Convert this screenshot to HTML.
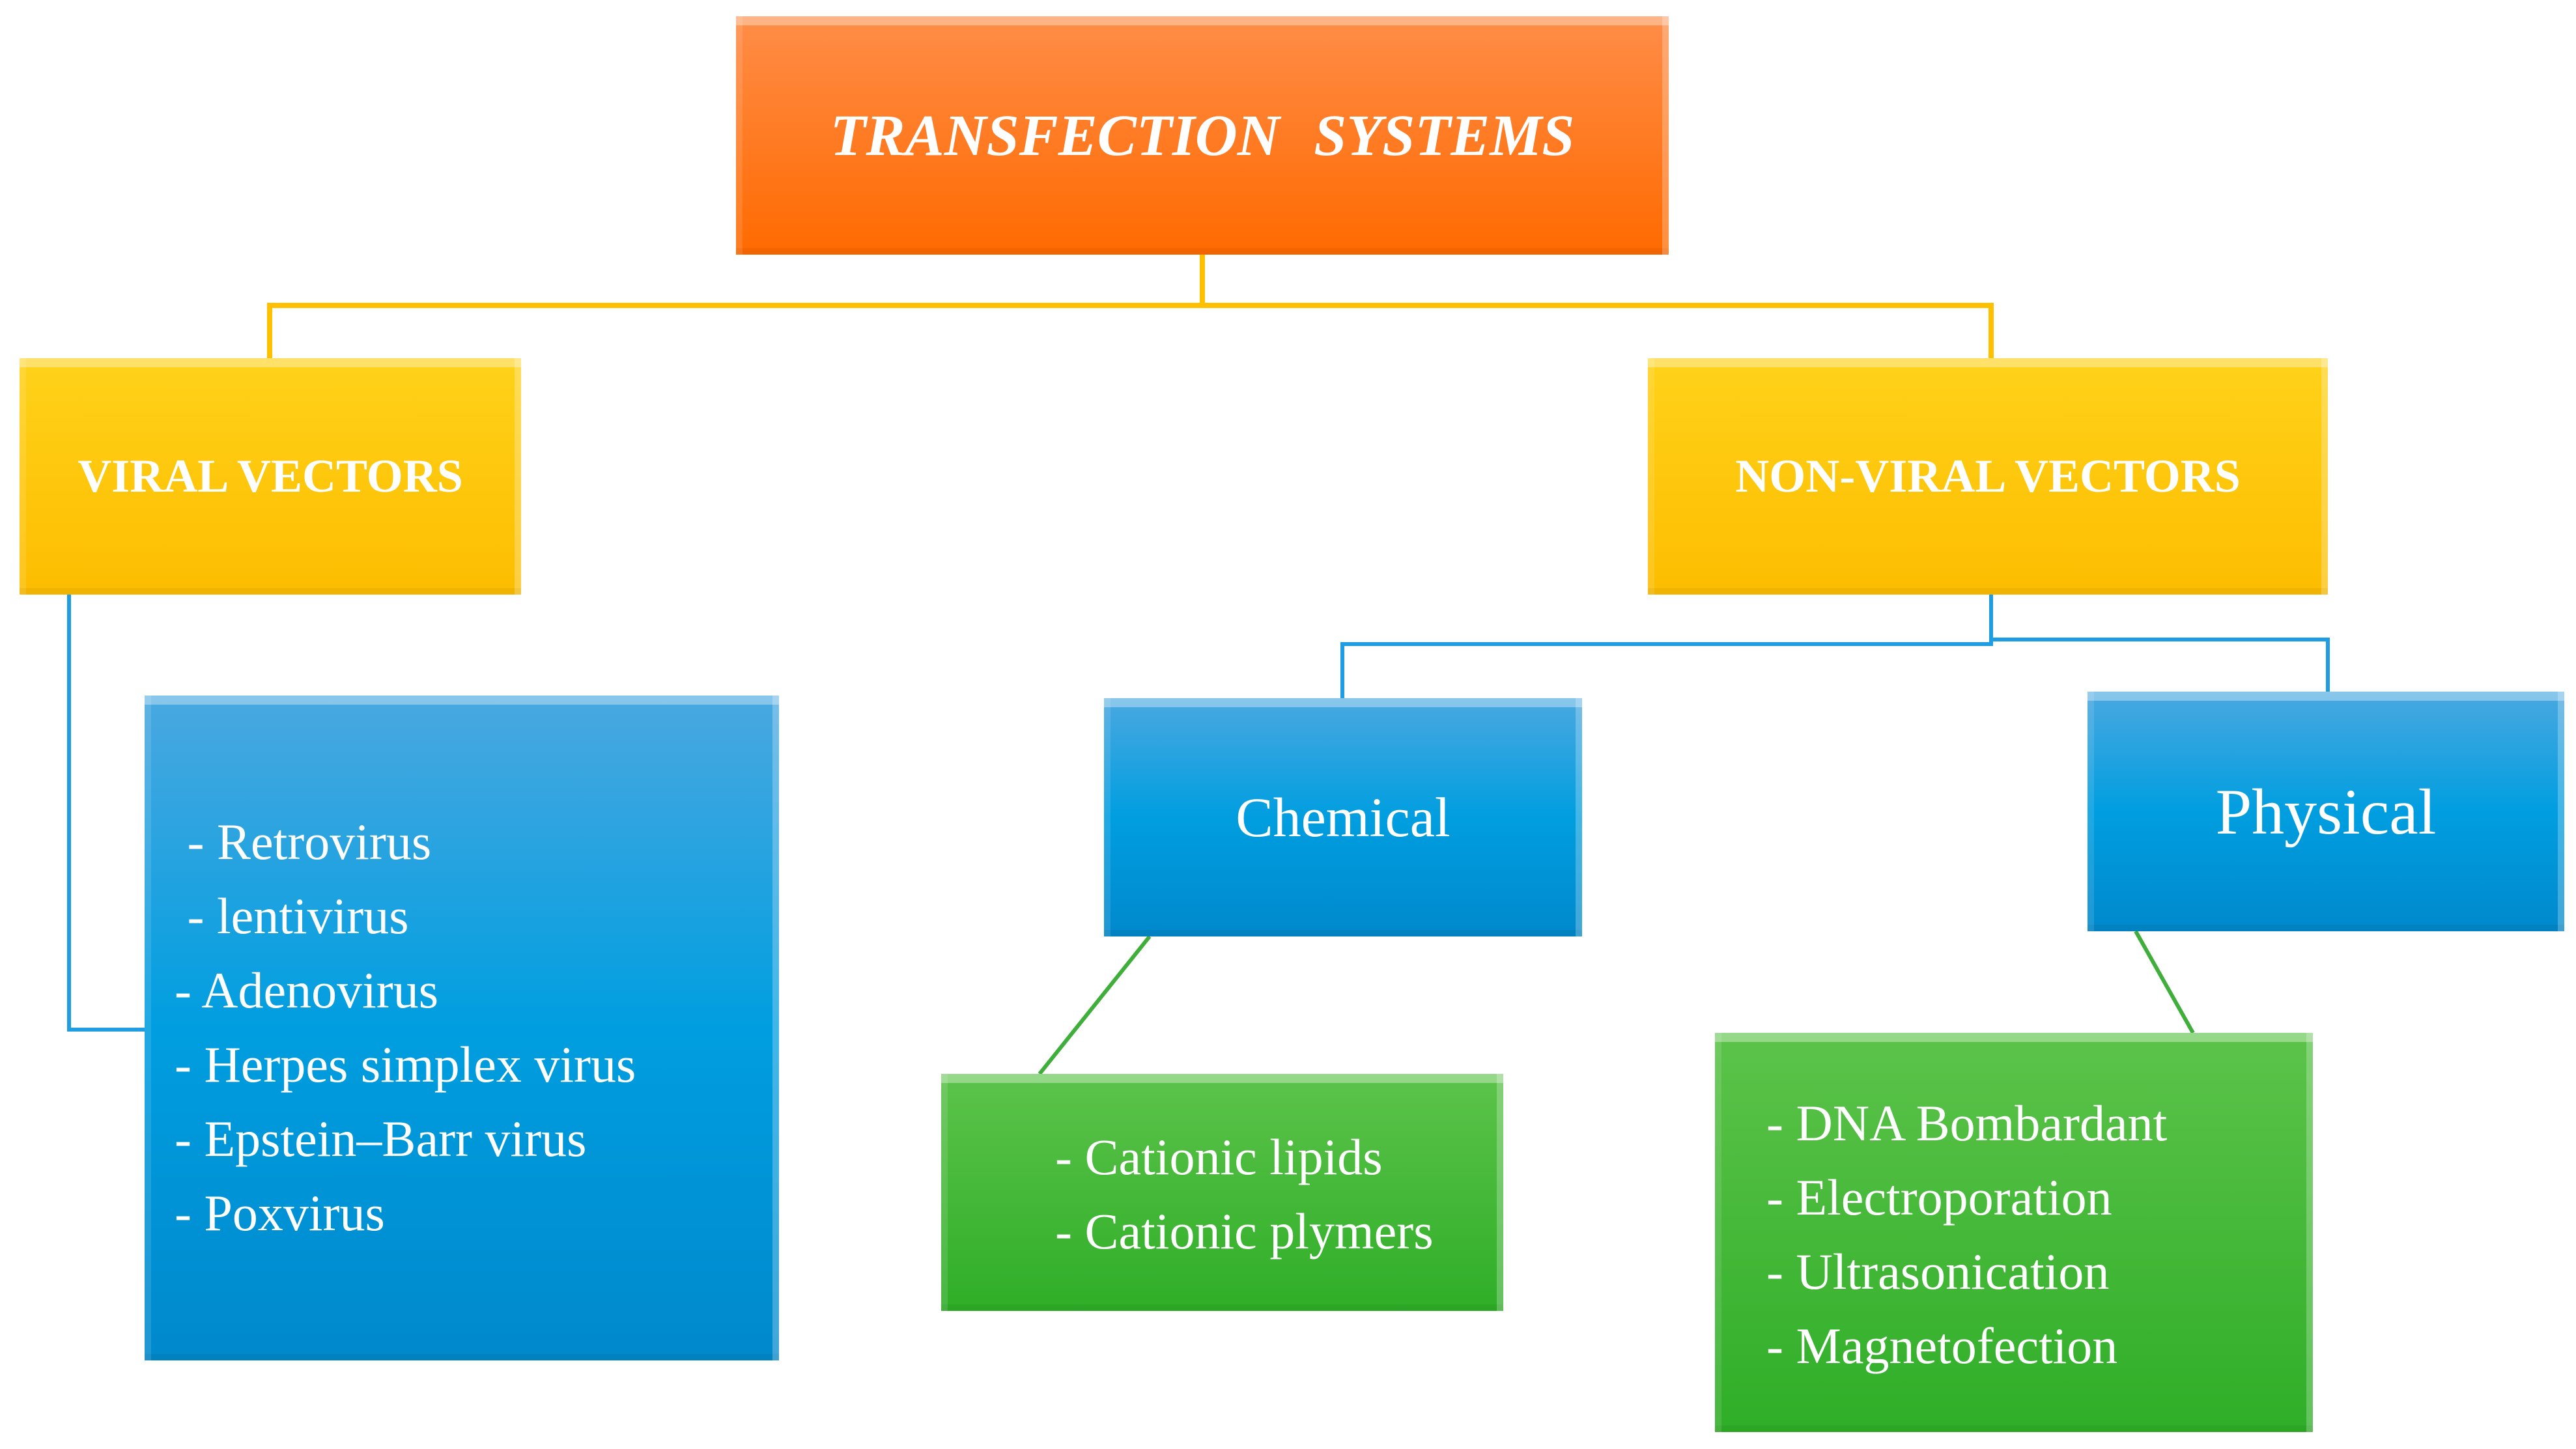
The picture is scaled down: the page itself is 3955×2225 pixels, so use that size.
<!DOCTYPE html>
<html><head><meta charset="utf-8"><style>
body{margin:0;width:3955px;height:2225px;background:#fff;position:relative;overflow:hidden;font-family:"Liberation Serif",serif;color:#fff}
.b{position:absolute;box-sizing:border-box;display:flex;align-items:center;justify-content:center;box-shadow:inset 0 14px 0 rgba(255,255,255,.35),inset 10px 0 0 rgba(255,255,255,.12),inset -10px 0 0 rgba(255,255,255,.25),inset 0 -10px 0 rgba(0,0,0,.05)}
.o{background:linear-gradient(#ff8d48,#ff6a00)}
.y{background:linear-gradient(#ffd21a,#fdbd00)}
.bl{background:linear-gradient(#4aa8e0,#009ee0 50%,#0089cc)}
.g{background:linear-gradient(#5cc34a,#2fae28)}
.list{position:absolute;font-size:78px;line-height:114px;white-space:pre;word-spacing:0}
</style></head><body>
<svg width="3955" height="2225" style="position:absolute;left:0;top:0">
<polyline points="1846,391 1846,469 414,469 414,550" fill="none" stroke="#ffc000" stroke-width="8"/>
<polyline points="1846,469 3057,469 3057,550" fill="none" stroke="#ffc000" stroke-width="8"/>
<polyline points="106,913 106,1581 224,1581" fill="none" stroke="#1e9ee0" stroke-width="6"/>
<polyline points="3057,913 3057,989 2061,989 2061,1072" fill="none" stroke="#1e9ee0" stroke-width="6"/>
<polyline points="3057,982 3574,982 3574,1062" fill="none" stroke="#1e9ee0" stroke-width="6"/>
<line x1="1765" y1="1438" x2="1596" y2="1649" stroke="#3fae3a" stroke-width="6"/>
<line x1="3279" y1="1430" x2="3367" y2="1586" stroke="#3fae3a" stroke-width="6"/>
</svg>
<div class="b o" style="left:1130px;top:25px;width:1432px;height:366px;font-size:90px;font-weight:bold;font-style:italic;word-spacing:30px">TRANSFECTION SYSTEMS</div>
<div class="b y" style="left:30px;top:550px;width:770px;height:363px;font-size:72px;font-weight:bold">VIRAL VECTORS</div>
<div class="b y" style="left:2530px;top:550px;width:1044px;height:363px;font-size:72px;font-weight:bold">NON-VIRAL VECTORS</div>
<div class="b bl" style="left:222px;top:1068px;width:974px;height:1021px"></div>
<div class="list" style="left:268px;top:1236px"> - Retrovirus
 - lentivirus
- Adenovirus
- Herpes simplex virus
- Epstein–Barr virus
- Poxvirus</div>
<div class="b bl" style="left:1695px;top:1072px;width:734px;height:366px;font-size:86px">Chemical</div>
<div class="b bl" style="left:3205px;top:1062px;width:732px;height:368px;font-size:100px">Physical</div>
<div class="b g" style="left:1445px;top:1649px;width:863px;height:364px"></div>
<div class="list" style="left:1620px;top:1720px">- Cationic lipids
- Cationic plymers</div>
<div class="b g" style="left:2633px;top:1586px;width:918px;height:613px"></div>
<div class="list" style="left:2712px;top:1668px">- DNA Bombardant
- Electroporation
- Ultrasonication
- Magnetofection</div>
</body></html>
